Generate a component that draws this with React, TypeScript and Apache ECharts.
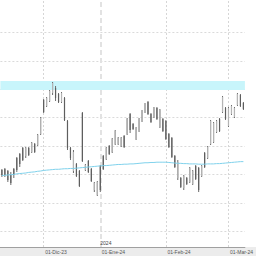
import { useEffect, useRef } from 'react';
import * as echarts from 'echarts';

// Trading days (Spanish market)
const categories = [
  '2023-11-13','2023-11-14','2023-11-15','2023-11-16','2023-11-17','2023-11-20','2023-11-21','2023-11-22','2023-11-23','2023-11-24','2023-11-27','2023-11-28','2023-11-29','2023-11-30',
  '2023-12-01','2023-12-04','2023-12-05','2023-12-06','2023-12-07','2023-12-08','2023-12-11','2023-12-12','2023-12-13','2023-12-14','2023-12-15','2023-12-18','2023-12-19','2023-12-20','2023-12-21','2023-12-22','2023-12-27','2023-12-28','2023-12-29',
  '2024-01-02','2024-01-03','2024-01-04','2024-01-05','2024-01-08','2024-01-09','2024-01-10','2024-01-11','2024-01-12','2024-01-15','2024-01-16','2024-01-17','2024-01-18','2024-01-19','2024-01-22','2024-01-23','2024-01-24','2024-01-25','2024-01-26','2024-01-29','2024-01-30','2024-01-31',
  '2024-02-01','2024-02-02','2024-02-05','2024-02-06','2024-02-07','2024-02-08','2024-02-09','2024-02-12','2024-02-13','2024-02-14','2024-02-15','2024-02-16','2024-02-19','2024-02-20','2024-02-21','2024-02-22','2024-02-23','2024-02-26','2024-02-27','2024-02-28','2024-02-29',
  '2024-03-01','2024-03-04','2024-03-05','2024-03-06','2024-03-07','2024-03-08',
];

// [open, close, low, high]
const candles: number[][] = [
  [3.155, 2.979, 2.909, 3.190],
  [3.190, 2.979, 2.909, 3.226],
  [3.120, 2.803, 2.733, 3.155],
  [2.979, 2.697, 2.627, 3.085],
  [3.190, 2.979, 2.873, 3.226],
  [3.578, 3.155, 3.085, 3.613],
  [3.718, 3.366, 3.261, 3.754],
  [3.930, 3.507, 3.472, 3.965],
  [3.648, 3.930, 3.578, 3.965],
  [3.930, 3.683, 3.648, 3.965],
  [3.789, 4.106, 3.754, 4.141],
  [4.071, 3.789, 3.754, 4.106],
  [4.035, 4.387, 4.000, 4.423],
  [4.423, 4.986, 4.387, 5.021],
  [5.620, 5.197, 5.162, 5.655],
  [5.409, 5.690, 5.373, 5.725],
  [5.585, 5.937, 5.549, 5.972],
  [5.866, 6.218, 5.796, 6.254],
  [6.042, 5.690, 5.585, 6.113],
  [5.831, 5.549, 5.514, 5.866],
  [5.549, 5.866, 5.514, 5.901],
  [5.690, 4.916, 4.880, 5.725],
  [4.880, 3.930, 3.859, 4.916],
  [3.930, 3.578, 3.507, 3.965],
  [3.120, 3.789, 3.049, 3.859],
  [3.366, 2.944, 2.909, 3.402],
  [3.120, 2.592, 2.556, 3.155],
  [5.162, 3.472, 3.437, 5.197],
  [3.155, 3.331, 3.120, 3.366],
  [3.472, 3.085, 3.049, 3.507],
  [3.190, 2.768, 2.733, 3.226],
  [2.451, 2.697, 2.380, 2.733],
  [2.275, 2.733, 2.240, 2.768],
  [3.296, 2.451, 2.380, 3.331],
  [3.648, 3.190, 3.155, 3.683],
  [3.542, 3.930, 3.507, 3.965],
  [4.000, 3.718, 3.683, 4.035],
  [3.789, 4.247, 3.754, 4.282],
  [4.071, 4.528, 4.035, 4.564],
  [4.071, 4.282, 4.035, 4.317],
  [4.000, 4.282, 3.965, 4.317],
  [4.352, 3.965, 3.930, 4.387],
  [4.423, 4.951, 4.387, 4.986],
  [5.127, 4.564, 4.458, 5.162],
  [4.775, 4.599, 4.564, 4.810],
  [4.247, 4.634, 4.211, 4.669],
  [4.528, 4.951, 4.493, 4.986],
  [4.880, 5.232, 4.845, 5.268],
  [5.197, 5.479, 5.162, 5.514],
  [5.549, 5.127, 5.092, 5.585],
  [5.127, 4.845, 4.810, 5.162],
  [5.021, 5.338, 4.986, 5.373],
  [5.338, 4.951, 4.916, 5.373],
  [4.669, 5.268, 4.634, 5.303],
  [4.951, 4.528, 4.493, 4.986],
  [4.880, 4.247, 4.211, 4.916],
  [4.423, 3.965, 3.930, 4.458],
  [4.282, 3.613, 3.578, 4.317],
  [3.648, 3.261, 3.226, 3.683],
  [2.873, 3.437, 2.803, 3.507],
  [2.873, 2.556, 2.521, 2.909],
  [2.521, 2.944, 2.451, 2.979],
  [2.873, 2.662, 2.627, 2.909],
  [2.733, 3.226, 2.697, 3.261],
  [2.662, 3.120, 2.627, 3.155],
  [3.296, 2.838, 2.803, 3.331],
  [3.226, 2.451, 2.380, 3.261],
  [2.944, 3.296, 2.909, 3.331],
  [3.754, 3.261, 3.226, 3.789],
  [3.578, 3.965, 3.542, 4.000],
  [4.071, 4.880, 4.035, 4.916],
  [4.141, 4.810, 4.106, 4.845],
  [4.493, 4.880, 4.458, 4.916],
  [4.951, 4.528, 4.493, 4.986],
  [5.197, 5.725, 5.162, 5.761],
  [5.338, 4.951, 4.916, 5.373],
  [4.704, 5.338, 4.669, 5.373],
  [5.127, 5.409, 5.092, 5.444],
  [5.021, 5.338, 4.986, 5.373],
  [5.444, 5.831, 5.409, 5.866],
  [5.796, 5.409, 5.373, 5.831],
  [5.514, 5.303, 5.268, 5.549],
];

// Moving average
const movingAvg = [
  2.96, 2.97, 2.98, 2.99, 3.00,
  3.02, 3.03, 3.04, 3.05, 3.07,
  3.08, 3.09, 3.11, 3.12, 3.14,
  3.15, 3.16, 3.17, 3.18, 3.18,
  3.19, 3.20, 3.20, 3.21, 3.21,
  3.22, 3.23, 3.24, 3.25, 3.26,
  3.27, 3.28, 3.29, 3.30, 3.31,
  3.31, 3.32, 3.33, 3.34, 3.35,
  3.35, 3.36, 3.36, 3.37, 3.37,
  3.38, 3.39, 3.40, 3.41, 3.41,
  3.42, 3.42, 3.43, 3.43, 3.43,
  3.43, 3.42, 3.41, 3.40, 3.39,
  3.39, 3.38, 3.38, 3.37, 3.37,
  3.37, 3.36, 3.36, 3.36, 3.37,
  3.37, 3.37, 3.38, 3.38, 3.39,
  3.40, 3.41, 3.42, 3.43, 3.44,
  3.45, 3.45,
];

const monthStarts = ['2023-12-01', '2024-01-02', '2024-02-01', '2024-03-01'];
const monthLabels = ['01-Dic-23', '01-Ene-24', '01-Feb-24', '01-Mar-24'];
const yearStart = '2024-01-02';
const yearLabel = '2024';
const gridValues = [1, 2, 3, 4, 5, 6, 7, 8];
const resistanceBand = [5.972, 6.289];
const yMin = 0.444;
const yMax = 9.141;
const yearLabelValue = 0.585;

export default function App() {
  const ref = useRef<HTMLDivElement>(null);
  useEffect(() => {
    if (!ref.current) return;
    const chart = echarts.init(ref.current, undefined, { renderer: 'svg' });
    const labelMap: Record<string, string> = {};
    monthStarts.forEach((d, i) => (labelMap[d] = monthLabels[i]));
    const monthIdx = new Set(monthStarts.map((d) => categories.indexOf(d)));
    const font = 'Liberation Sans, Arial, sans-serif';

    chart.setOption({
      animation: false,
      backgroundColor: '#ffffff',
      grid: { left: 0.4, top: 0, width: 255.9, bottom: 9, containLabel: false },
      graphic: {
        elements: [
          {
            type: 'rect',
            left: 0,
            bottom: 0,
            z: -10,
            shape: { width: 256, height: 9 },
            style: { fill: '#ececec' },
          },
        ],
      },
      xAxis: {
        type: 'category',
        data: categories,
        boundaryGap: true,
        z: 5,
        axisLine: { lineStyle: { color: '#a0a0a0', width: 1 } },
        axisTick: {
          alignWithLabel: true,
          interval: (i: number) => monthIdx.has(i),
          length: 3,
          lineStyle: { color: '#888' },
        },
        axisLabel: {
          interval: (i: number) => monthIdx.has(i),
          formatter: (v: string) => labelMap[v] || '',
          align: 'left',
          fontSize: 5,
          fontFamily: font,
          color: '#555',
          margin: 2,
          padding: [0, 0, 0, 1.5],
        },
        splitLine: { show: false },
      },
      yAxis: {
        type: 'value',
        min: yMin,
        max: yMax,
        show: false,
        splitLine: { show: false },
      },
      series: [
        {
          type: 'custom',
          name: 'OHLC',
          z: 3,
          clip: true,
          data: candles.map((c, i) => [i, c[0], c[1], c[2], c[3]]),
          encode: { x: 0, y: [1, 2, 3, 4] },
          renderItem: (params: any, api: any) => {
            const i = api.value(0);
            const o = api.value(1);
            const c = api.value(2);
            const l = api.value(3);
            const h = api.value(4);
            const pH = api.coord([i, h]);
            const pL = api.coord([i, l]);
            const pO = api.coord([i, o]);
            const pC = api.coord([i, c]);
            const x = pH[0];
            const up = c >= o;
            return {
              type: 'group',
              children: [
                {
                  type: 'line',
                  shape: { x1: x, y1: pH[1], x2: x, y2: pL[1] },
                  style: { stroke: '#6a6a6a', lineWidth: 1 },
                },
                {
                  type: 'rect',
                  shape: {
                    x: x - 0.6,
                    y: Math.min(pO[1], pC[1]),
                    width: 1.2,
                    height: Math.max(1, Math.abs(pO[1] - pC[1])),
                  },
                  style: { fill: up ? '#b4b4b4' : '#5e5e5e' },
                },
              ],
            };
          },
        },
        {
          type: 'line',
          name: 'MA',
          z: 4,
          data: movingAvg,
          symbol: 'none',
          lineStyle: { color: '#80d2ec', width: 1 },
          markArea: {
            silent: true,
            z: 1,
            itemStyle: { color: '#c8f5fb' },
            data: [[{ yAxis: resistanceBand[0] }, { yAxis: resistanceBand[1] }]],
          },
          markLine: {
            silent: true,
            z: 0,
            symbol: ['none', 'none'],
            label: { show: false },
            data: [
              ...gridValues.map((v) => ({
                yAxis: v,
                lineStyle: { color: '#dadada', type: [2, 2], width: 1 },
              })),
              ...monthStarts
                .filter((d) => d !== yearStart)
                .map((d) => ({
                  xAxis: d,
                  lineStyle: { color: '#d6d6d6', type: [2, 2], width: 1 },
                })),
              {
                xAxis: yearStart,
                lineStyle: { color: '#e2e2e2', type: [5, 3], width: 2 },
              },
            ],
          },
          markPoint: {
            silent: true,
            symbol: 'circle',
            symbolSize: 0,
            data: [
              {
                coord: [yearStart, yearLabelValue],
                label: {
                  show: true,
                  formatter: yearLabel,
                  position: 'right',
                  distance: 0,
                  fontSize: 5,
                  fontFamily: font,
                  color: '#444',
                },
              },
            ],
          },
        },
      ],
    });
    return () => chart.dispose();
  }, []);
  return (
    <div
      ref={ref}
      style={{ position: 'fixed', left: 0, top: 0, width: 256, height: 256 }}
    />
  );
}
